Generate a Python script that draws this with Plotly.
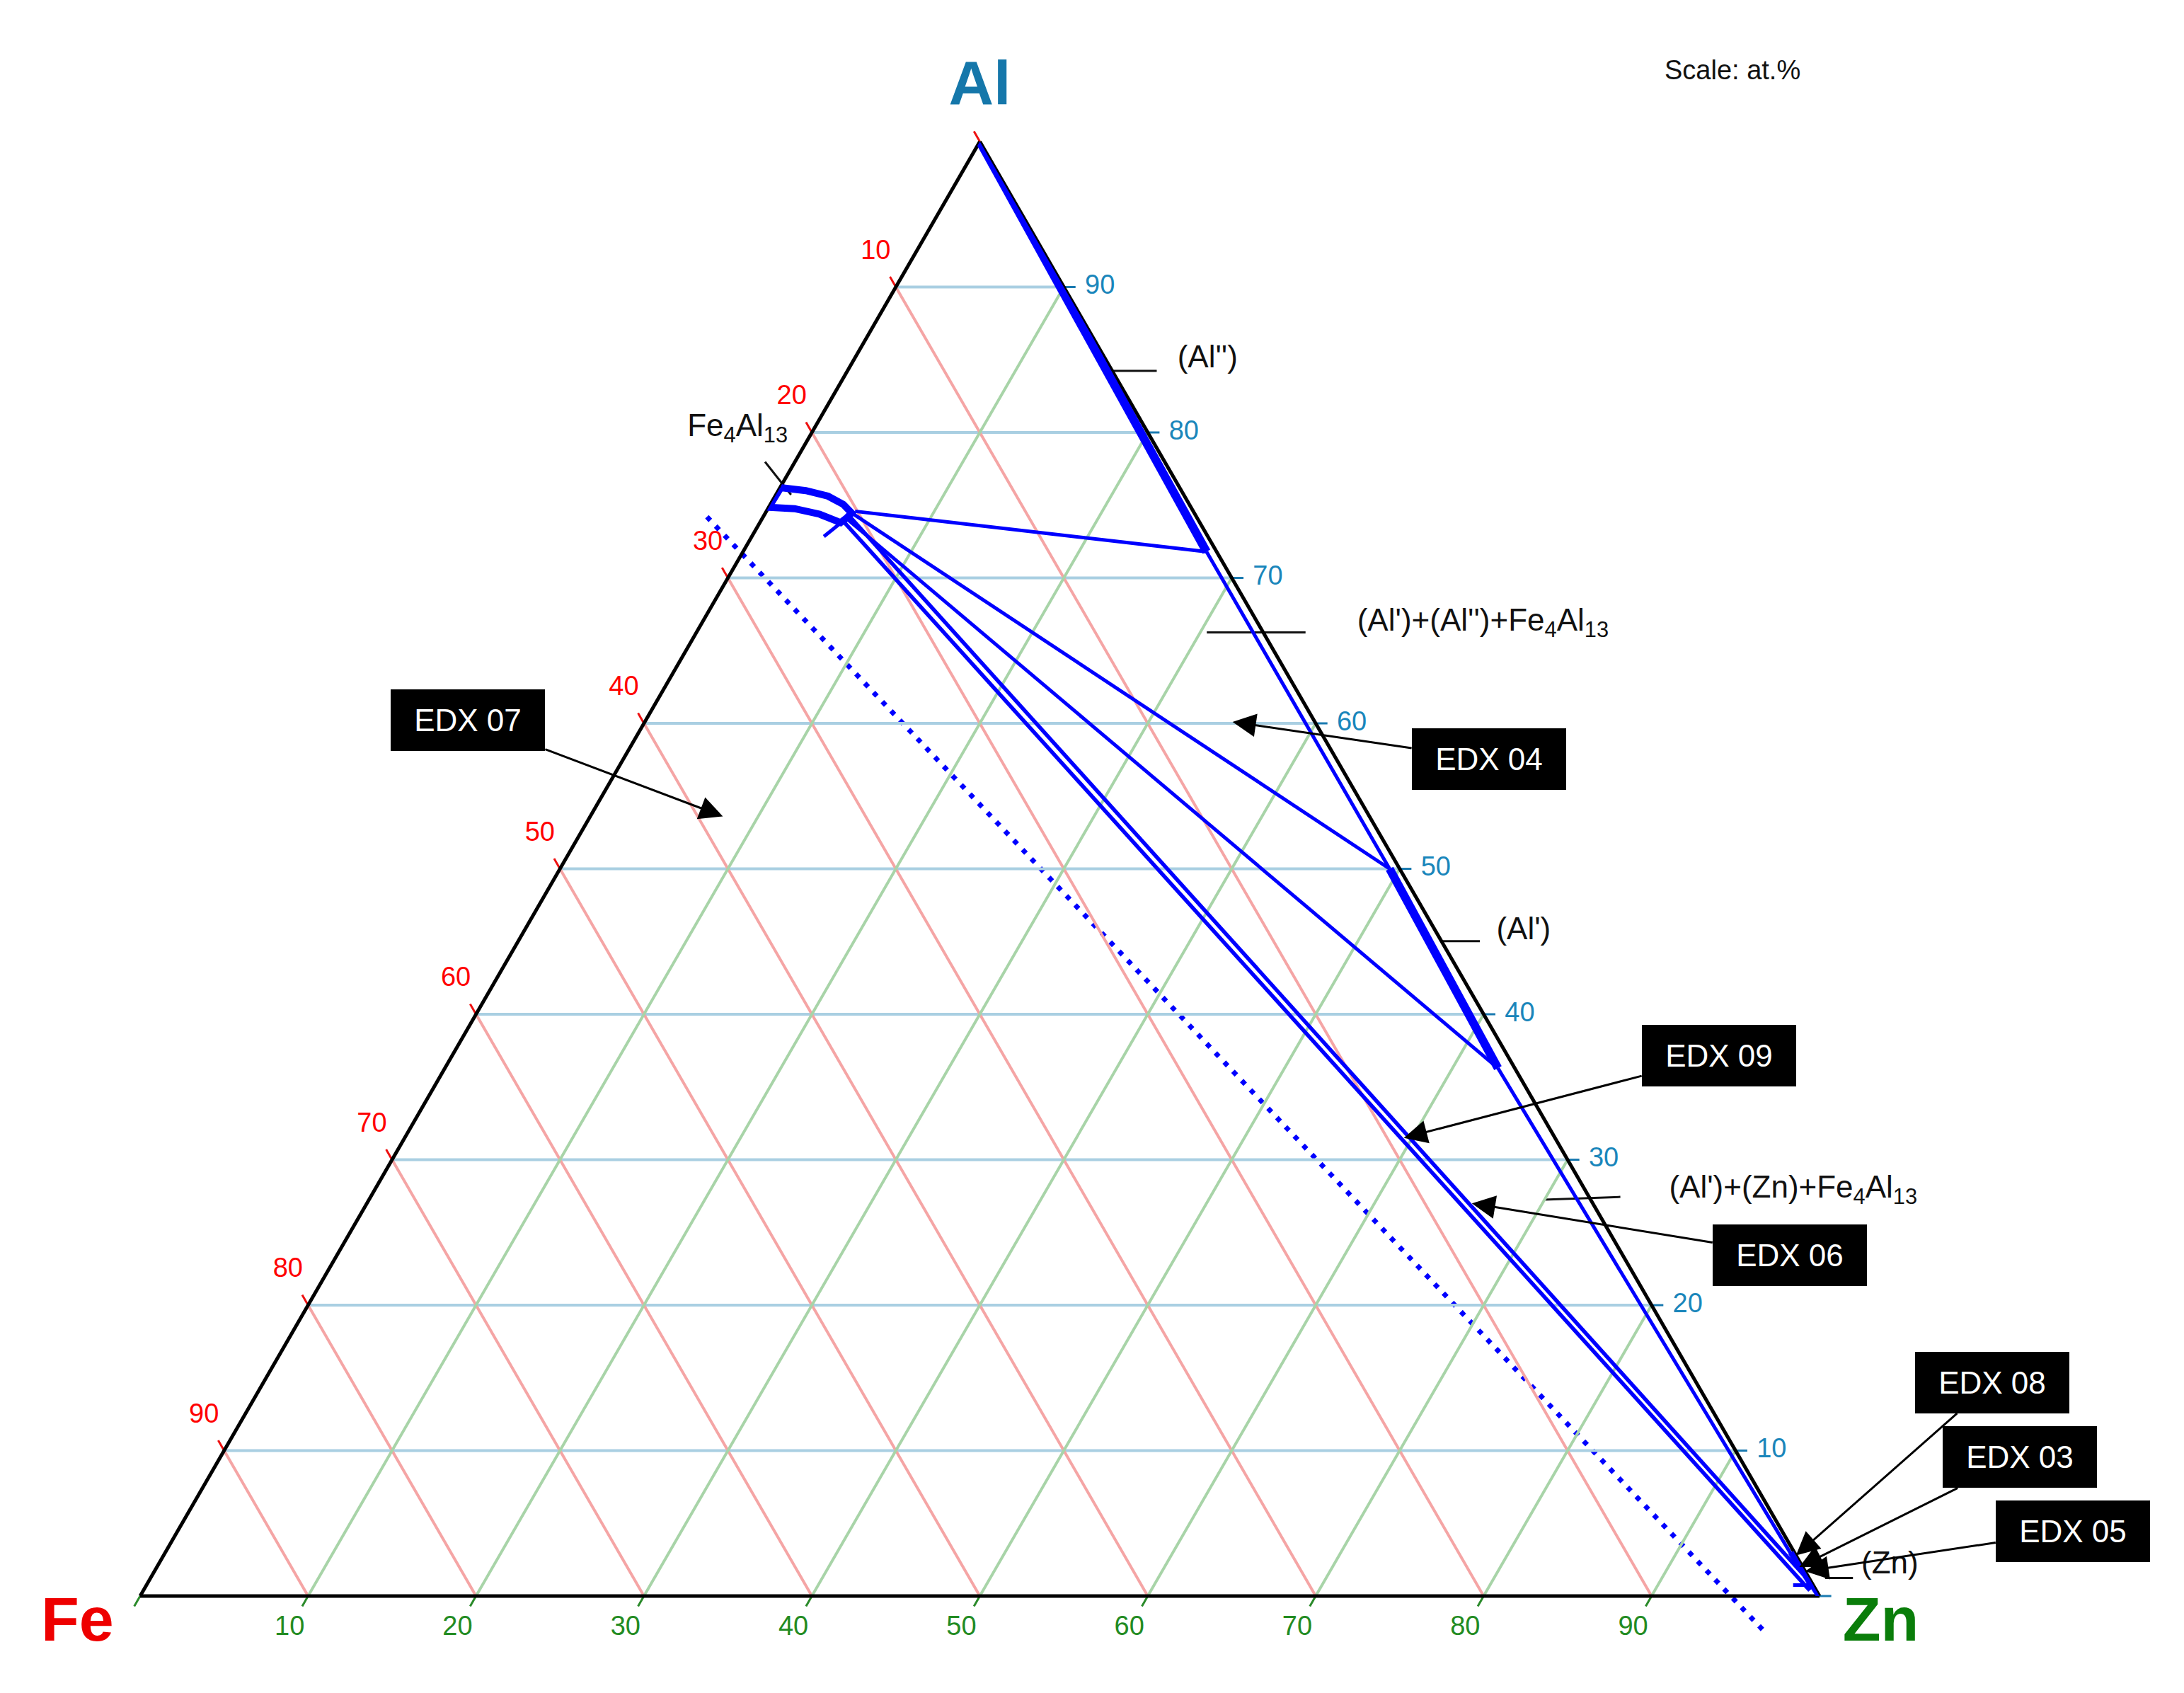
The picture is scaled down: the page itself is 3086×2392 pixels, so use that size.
import plotly.graph_objects as go

FONT = "Liberation Sans, Arial, Helvetica, sans-serif"

# ---------------- data (at.%) ----------------
tick_values = [0, 10, 20, 30, 40, 50, 60, 70, 80, 90]
tick_labels = [10, 20, 30, 40, 50, 60, 70, 80, 90]

# (Al'') solvus along the Al-Zn edge
alpp_al = [100.0, 71.8]
alpp_fe = [0.0, 0.6]
alpp_zn = [0.0, 27.6]

# (Al') solvus
alp_al = [50.0, 36.3]
alp_fe = [0.6, 1.0]
alp_zn = [49.4, 62.7]

# (Zn) solvus near the Zn corner
zn_al = [3.0, 0.0]
zn_fe = [0.2, 0.0]
zn_zn = [96.8, 100.0]

# Fe4Al13 homogeneity region (closed lens)
fe4_al = [76.2, 76.0, 75.62, 75.05, 74.47, 74.1, 73.8, 74.38, 74.76, 74.86]
fe4_fe = [23.76, 22.36, 21.23, 20.6, 20.4, 20.9, 21.39, 22.35, 23.65, 25.14]
fe4_zn = [0.04, 1.64, 3.15, 4.35, 5.13, 5.0, 4.81, 3.27, 1.59, 0.0]

# tie lines / tie-triangle edges (pairs of end points)
tie_al = [[74.58, 71.8], [74.47, 50.0], [74.1, 36.3], [71.8, 50.0], [36.3, 0.5],
          [72.85, 74.0], [0.76, 0.76]]
tie_fe = [[20.14, 0.6], [20.4, 0.6], [20.9, 1.0], [0.6, 0.6], [1.0, 0.2],
          [22.86, 21.04], [1.19, 0.2]]
tie_zn = [[5.28, 27.6], [5.13, 49.4], [5.0, 62.7], [27.6, 49.4], [62.7, 99.3],
          [4.29, 4.96], [98.05, 99.04]]

# Fe4Al13 + (Zn) double boundary
dbl_al = [[74.28, 0.67], [74.0, 0.38]]
dbl_fe = [[20.65, 0.0], [21.21, 0.39]]
dbl_zn = [[5.07, 99.33], [4.79, 99.23]]

# dotted composition line (extends beyond the triangle)
dot_al = [74.2, -2.3]
dot_fe = [29.15, 4.55]
dot_zn = [-3.35, 97.75]

# phase-field labels: text, anchor (Al, Fe, Zn), leader line ends
phase_text = ["(Al'')", "(Al')+(Al'')+Fe<sub>4</sub>Al<sub>13</sub>", "(Al')",
              "(Al')+(Zn)+Fe<sub>4</sub>Al<sub>13</sub>", "(Zn)"]
phase_al = [84.99, 66.92, 45.7, 27.92, 2.1]
phase_fe = [-4.26, -5.93, -3.61, -5.0, -3.54]
phase_zn = [19.27, 39.01, 57.91, 77.08, 101.44]
lead_al = [[84.23, 84.23], [66.25, 66.25], [45.03, 45.03], [27.25, 27.44], [1.24, 1.24], [77.98, 75.72]]
lead_fe = [[0.0, -2.65], [3.36, -2.52], [-0.05, -2.29], [2.79, -1.86], [-0.95, -2.61], [23.8, 23.38]]
lead_zn = [[15.77, 18.42], [30.39, 36.27], [55.02, 57.26], [69.96, 74.42], [99.71, 101.37], [-1.78, 0.9]]

fe4_label = "Fe<sub>4</sub>Al<sub>13</sub>"
fe4_label_pos = (80.31, 24.27, -4.58)

# vertex names and their anchor compositions
vertex_names = ["Al", "Fe", "Zn"]
vertex_al = [103.63, -2.01, -2.01]
vertex_fe = [-1.81, 104.74, -2.64]
vertex_zn = [-1.82, -2.73, 104.65]

# EDX measurement points (arrow tips) (Al, Fe, Zn)
edx_names = ["EDX 07", "EDX 04", "EDX 09", "EDX 06", "EDX 08", "EDX 03", "EDX 05"]
edx_al = [53.6, 60.1, 31.5, 27.0, 2.8, 2.0, 1.7]
edx_fe = [38.5, 4.9, 9.0, 7.2, 0.0, 0.2, 0.0]
edx_zn = [7.9, 35.0, 59.5, 65.8, 97.2, 97.8, 98.3]
# box offsets from tips in pixels
edx_ax = [-360, 362, 445, 449, 277, 311, 378]
edx_ay = [-136, 53, -116, 73, -244, -155, -57]

# ---------------- layout geometry ----------------
W, H = 3086, 2392
ML, MT, PW = 190, 192, 2373
PH = 2055
MB = H - MT - PH

BLUE = "#0000ff"
fig = go.Figure()


def to_xy(al, fe, zn):
    """ternary composition -> overlay cartesian frame (triangle base 0..1, height 0..1)"""
    if al is None:
        return None, None
    s = al + fe + zn
    return (zn + al / 2.0) / s, al / s


def xy_lists(a, b, c):
    xs, ys = [], []
    for p, q, r in zip(a, b, c):
        x, y = to_xy(p, q, r)
        xs.append(x); ys.append(y)
    return xs, ys


def add_line(a, b, c, width, color=BLUE, dash=None):
    fig.add_trace(go.Scatterternary(a=a, b=b, c=c, mode="lines",
                                    line=dict(color=color, width=width, dash=dash),
                                    hoverinfo="skip", showlegend=False))


def add_cline(a, b, c, width, color, dash=None):
    xs, ys = xy_lists(a, b, c)
    fig.add_trace(go.Scatter(x=xs, y=ys, mode="lines", cliponaxis=False,
                             line=dict(color=color, width=width, dash=dash),
                             hoverinfo="skip", showlegend=False))


def add_ctext(a, b, c, text, size, color, pos="middle center"):
    xs, ys = xy_lists(a, b, c)
    fig.add_trace(go.Scatter(x=xs, y=ys, mode="text", text=text, textposition=pos,
                             cliponaxis=False,
                             textfont=dict(family=FONT, size=size, color=color),
                             hoverinfo="skip", showlegend=False))


# ---- dotted composition line ----
add_cline(dot_al, dot_fe, dot_zn, 7, BLUE, "7px,11px")

# ---- ticks (extensions of grid lines outside the triangle) ----
tl = 0.7
ta, tb, tc = [], [], []
for v in tick_values:  # Al ticks on the right edge
    ta += [v, v, None]; tb += [0, -tl, None]; tc += [100 - v, 100 - v + tl, None]
add_cline(ta, tb, tc, 3, "#1a7ab0")
ta, tb, tc = [], [], []
for v in tick_values:  # Fe ticks on the left edge
    ta += [100 - v, 100 - v + tl, None]; tb += [v, v, None]; tc += [0, -tl, None]
add_cline(ta, tb, tc, 3, "#ee1111")
ta, tb, tc = [], [], []
for v in tick_values:  # Zn ticks on the bottom edge
    ta += [0, -tl, None]; tb += [100 - v, 100 - v + tl, None]; tc += [v, v, None]
add_cline(ta, tb, tc, 3, "#2a8a2a")

# ---- tick labels ----
lt = 2.15
add_ctext(list(tick_labels), [-lt] * len(tick_labels), [100 - v + lt for v in tick_labels],
          [str(v) for v in tick_labels], 38, "#1a86bb")
lt = 2.4
add_ctext([100 - v + lt for v in tick_labels], list(tick_labels), [-lt] * len(tick_labels),
          [str(v) for v in tick_labels], 38, "#ff0000")
lt = 2.2
add_ctext([-lt] * len(tick_labels), [100 - v + lt for v in tick_labels], list(tick_labels),
          [str(v) for v in tick_labels], 38, "#228b22")

# ---- phase diagram (inside the triangle, ternary scale) ----
for a, b, c in zip(tie_al, tie_fe, tie_zn):
    add_line(a, b, c, 5)
for a, b, c in zip(dbl_al, dbl_fe, dbl_zn):
    add_line(a, b, c, 5.5)
add_line(alpp_al, alpp_fe, alpp_zn, 12)
add_line(alp_al, alp_fe, alp_zn, 12)
add_line(zn_al, zn_fe, zn_zn, 9)
add_line(fe4_al + fe4_al[:1], fe4_fe + fe4_fe[:1], fe4_zn + fe4_zn[:1], 10)

# ---- phase labels with leader lines ----
la, lb, lc = [], [], []
for a, b, c in zip(lead_al, lead_fe, lead_zn):
    la += a + [None]; lb += b + [None]; lc += c + [None]
add_cline(la, lb, lc, 3, "#111111")
add_ctext(phase_al, phase_fe, phase_zn, phase_text, 44, "#111111", "middle right")
add_ctext([fe4_label_pos[0]], [fe4_label_pos[1]], [fe4_label_pos[2]], [fe4_label], 44, "#111111")

# ---- vertex names ----
vertex_colors = ["#1577aa", "#ee0000", "#0a7d0a"]
for n, a, b, c, col in zip(vertex_names, vertex_al, vertex_fe, vertex_zn, vertex_colors):
    add_ctext([a], [b], [c], ["<b>%s</b>" % n], 88, col)

annotations = []
for name, a, b, c, ax, ay in zip(edx_names, edx_al, edx_fe, edx_zn, edx_ax, edx_ay):
    px, py = to_xy(a, b, c)
    annotations.append(dict(x=px, y=py, xref="x", yref="y", ax=ax, ay=ay,
                            text=name, showarrow=True, arrowhead=2, arrowsize=2.2,
                            arrowwidth=3, arrowcolor="black", bgcolor="black",
                            bordercolor="black", borderwidth=0, borderpad=0,
                            width=218, height=87, standoff=0,
                            font=dict(family=FONT, size=44, color="white")))
annotations.append(dict(x=2440 / W, y=1 - 91 / H, xref="paper", yref="paper", showarrow=False,
                        text="Scale: at.%", xanchor="center", yanchor="middle",
                        font=dict(family=FONT, size=38, color="#111111")))

axis_common = dict(min=0, tick0=0, dtick=10, showgrid=True, gridwidth=3.5,
                   showline=True, linecolor="black", linewidth=5,
                   showticklabels=False, ticks="", layer="below traces",
                   title=dict(text=""))

fig.update_layout(
    width=W, height=H,
    margin=dict(l=0, r=0, t=0, b=0, pad=0),
    paper_bgcolor="white",
    plot_bgcolor="rgba(0,0,0,0)",
    hovermode=False,
    showlegend=False,
    # overlay frame covering the whole figure, aligned with the ternary triangle
    xaxis=dict(range=[-ML / PW, (W - ML) / PW], domain=[0, 1], visible=False, fixedrange=True),
    yaxis=dict(range=[-MB / PH, 1 + MT / PH], domain=[0, 1], visible=False, fixedrange=True),
    ternary=dict(
        sum=100,
        domain=dict(x=[ML / W, (ML + PW) / W], y=[MB / H, (MB + PH) / H]),
        bgcolor="rgba(0,0,0,0)",
        aaxis=dict(axis_common, gridcolor="#a9cfe2"),
        baxis=dict(axis_common, gridcolor="#f5a5a5"),
        caxis=dict(axis_common, gridcolor="#a8d4a8"),
    ),
    annotations=annotations,
)

fig.write_html("out.html", config={"displayModeBar": False})
